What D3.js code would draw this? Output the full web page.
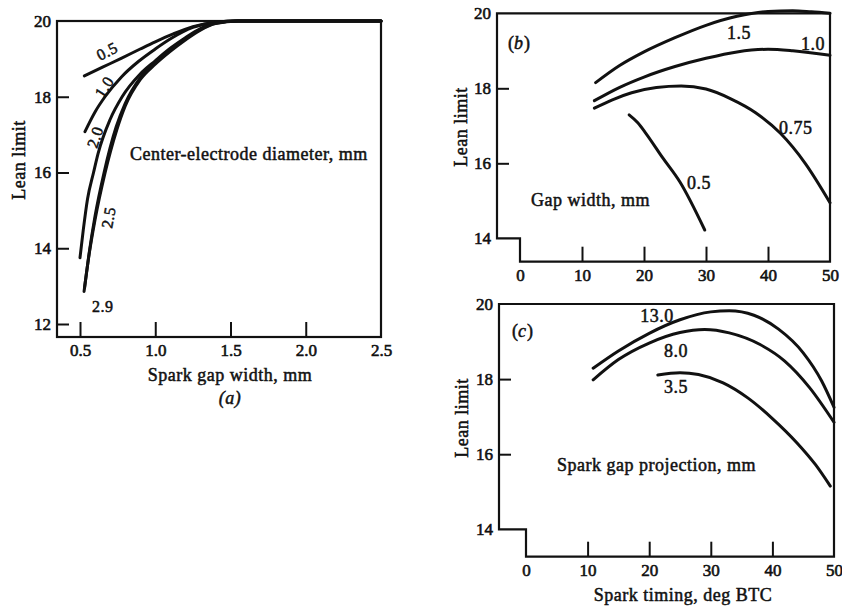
<!DOCTYPE html>
<html>
<head>
<meta charset="utf-8">
<script src="https://cdn.jsdelivr.net/npm/d3@7"></script>
<style>
  body { margin: 0; background: #fff; }
  svg text { font-family: "Liberation Serif", "DejaVu Serif", serif; fill: #111; stroke: #111; stroke-width: 0.5px; }
  .lbl { letter-spacing: 0.5px; }
  .frame { fill: none; stroke: #111; stroke-width: 2.2px; }
  .curve { fill: none; stroke: #111; stroke-width: 3px; stroke-linecap: round; }
  .tick line { stroke: #111; stroke-width: 2px; }
</style>
</head>
<body>
<div id="chart"></div>
<script>
'use strict';

// ---- panel (a): lean limit vs spark gap width, per center-electrode diameter
const aLabels = ['0.5', '1.0', '2.0', '2.5', '2.9'];
const aCurve05 = [[0.529, 18.55], [0.65, 18.78], [0.777, 19.02], [0.9, 19.26], [1.0, 19.45], [1.12, 19.66], [1.25, 19.85], [1.4, 19.97], [1.55, 20], [2.5, 20]];
const aCurve10 = [[0.533, 17.08], [0.6, 17.6], [0.666, 18.0], [0.777, 18.53], [0.888, 18.93], [1.0, 19.26], [1.11, 19.55], [1.25, 19.83], [1.4, 19.97], [1.55, 20], [2.5, 20]];
const aCurve20 = [[0.5, 13.75], [0.522, 14.49], [0.55, 15.3], [0.59, 16.0], [0.62, 16.5], [0.7, 17.4], [0.78, 18.0], [0.9, 18.6], [1.0, 18.95], [1.1, 19.28], [1.2, 19.56], [1.3, 19.8], [1.4, 19.95], [1.55, 20], [2.5, 20]];
const aCurve25 = [[0.53, 12.95], [0.56, 13.85], [0.6, 14.85], [0.66, 16.0], [0.74, 17.2], [0.8, 17.82], [0.9, 18.5], [1.0, 18.9], [1.1, 19.24], [1.2, 19.53], [1.3, 19.78], [1.4, 19.94], [1.55, 20], [2.5, 20]];
const aCurve29 = [[0.527, 12.86], [0.555, 13.69], [0.6, 14.75], [0.666, 15.98], [0.744, 17.12], [0.8, 17.75], [0.9, 18.45], [1.0, 18.86], [1.1, 19.2], [1.2, 19.5], [1.3, 19.76], [1.4, 19.93], [1.55, 20], [2.5, 20]];
const aXTicks = [0.5, 1.0, 1.5, 2.0, 2.5];
const aYTicks = [12, 14, 16, 18, 20];

// ---- panel (b): lean limit vs spark timing, per gap width
const bLabels = ['1.5', '1.0', '0.75', '0.5'];
const bCurve15 = [[12.2, 18.15], [16, 18.6], [20, 18.97], [25, 19.35], [30, 19.68], [35, 19.92], [40, 20.05], [44, 20.07], [47, 20.04], [50, 20.0]];
const bCurve10 = [[12, 17.67], [16, 18.02], [20, 18.3], [25, 18.58], [30, 18.8], [35, 18.97], [40, 19.04], [44, 19.0], [50, 18.88]];
const bCurve075 = [[12, 17.47], [15, 17.7], [18, 17.88], [22, 18.02], [26, 18.06], [30, 17.98], [34, 17.72], [38, 17.35], [42, 16.8], [46, 16.0], [50, 14.95]];
const bCurve05 = [[17.6, 17.29], [19, 17.08], [20.3, 16.8], [23, 16.15], [25.8, 15.5], [29.8, 14.22]];
const bXTicks = [0, 10, 20, 30, 40, 50];
const bYTicks = [14, 16, 18, 20];

// ---- panel (c): lean limit vs spark timing, per spark gap projection
const cLabels = ['13.0', '8.0', '3.5'];
const cCurve130 = [[10.9, 18.29], [15, 18.75], [20, 19.22], [25, 19.58], [30, 19.79], [33, 19.82], [37, 19.7], [41, 19.33], [45, 18.7], [48, 17.95], [50, 17.25]];
const cCurve80 = [[10.9, 17.98], [15, 18.52], [20, 18.96], [25, 19.24], [29, 19.32], [33, 19.23], [38, 18.92], [42, 18.48], [46, 17.78], [50, 16.85]];
const cCurve35 = [[21.4, 18.11], [25, 18.17], [28, 18.12], [32, 17.9], [36, 17.5], [40, 16.95], [44, 16.3], [47, 15.72], [49.4, 15.15]];
const cXTicks = [0, 10, 20, 30, 40, 50];
const cYTicks = [14, 16, 18, 20];

const W = 842, H = 608;
const svg = d3.select('#chart').append('svg').attr('width', W).attr('height', H);

let line = (x, y) => d3.line().x(d => x(d[0])).y(d => y(d[1])).curve(d3.curveMonotoneX);

function drawAxes(g, x, y, xTicks, yTicks, fmt){
    //inward ticks on left and bottom
    let ya = d3.axisLeft(y).tickValues(yTicks).tickSize(-12).tickPadding(6).tickFormat(d3.format('d'));
    let yg = g.append('g').attr('transform', `translate(${x.range()[0]},0)`).call(ya);
    yg.select('.domain').remove();
    yg.selectAll('text').style('font-size', '17px').style('stroke-width', '0.6px');
    let xa = d3.axisBottom(x).tickValues(xTicks).tickSize(-15).tickPadding(7).tickFormat(fmt);
    let xg = g.append('g').attr('transform', `translate(0,${y.range()[0]})`).call(xa);
    xg.select('.domain').remove();
    xg.selectAll('text').style('font-size', '17px').style('stroke-width', '0.6px');
    return [yg, xg];
}

function text(g, s, x, y, opts){
    opts = opts || {};
    let t = g.append('text').classed('lbl', true).text(s).attr('x', x).attr('y', y)
        .style('font-size', (opts.size || 18) + 'px')
        .attr('text-anchor', opts.anchor || 'start');
    if(opts.rotate) t.attr('transform', `rotate(${opts.rotate},${x},${y})`);
    if(opts.italic) t.style('font-style', 'italic');
    return t;
}

// ================= panel (a)
(function(){
    let g = svg.append('g');
    let x = d3.scaleLinear().domain([0.5, 2.5]).range([80, 381]);
    let y = d3.scaleLinear().domain([12, 20]).range([324, 21]);
    let left = x.invert(57), bottom = y.invert(337);
    x.domain([left, 2.5]).range([57, 381]);
    y.domain([bottom, 20]).range([337, 21]);

    let [yg, xg] = drawAxes(g, x, y, aXTicks, aYTicks, d3.format('.1f'));
    //top tick & right edge tick sit on the frame
    xg.selectAll('.tick').filter(d => d === 2.5).select('line').remove();
    yg.selectAll('.tick').filter(d => d === 20).select('line').remove();

    g.append('rect').classed('frame', true)
        .attr('x', x.range()[0]).attr('y', y.range()[1])
        .attr('width', x.range()[1] - x.range()[0]).attr('height', y.range()[0] - y.range()[1]);

    let l = line(x, y);
    for(let c of [aCurve05, aCurve10, aCurve20, aCurve25, aCurve29]){
        g.append('path').datum(c).classed('curve', true).attr('d', l);
    }

    text(g, aLabels[0], 100, 61, {rotate: -27, size: 16});
    text(g, aLabels[1], 103, 99, {rotate: -57, size: 16});
    text(g, aLabels[2], 97, 149, {rotate: -72, size: 16});
    text(g, aLabels[3], 112, 229, {rotate: -80, size: 16});
    text(g, aLabels[4], 92, 312, {size: 16});
    text(g, 'Center-electrode diameter, mm', 130, 160);
    text(g, 'Lean limit', 25, 160, {anchor: 'middle', rotate: -90});
    text(g, 'Spark gap width, mm', 230, 381, {anchor: 'middle'});
    text(g, '(a)', 230, 404, {anchor: 'middle', italic: true});
})();

// ================= panel (b)
function stepFrame(g, x, y){
    let [l, r] = x.range(), [b, t] = y.range();
    let x0 = x(0), y14 = y(14);
    g.append('path').classed('frame', true)
        .attr('d', `M${l},${y14}L${l},${t}L${r},${t}L${r},${b}L${x0},${b}L${x0},${y14}Z`);
}

(function(){
    let g = svg.append('g');
    let x = d3.scaleLinear().domain([0, 50]).range([520, 830]);
    let y = d3.scaleLinear().domain([14, 20]).range([238.3, 13.3]);
    x.domain([x.invert(497), 50]).range([497, 830]);
    y.domain([y.invert(261.7), 20]).range([261.7, 13.3]);

    let [yg, xg] = drawAxes(g, x, y, bXTicks, bYTicks, d3.format('d'));
    xg.selectAll('.tick').filter(d => d === 0 || d === 50).select('line').remove();
    yg.selectAll('.tick').filter(d => d === 14 || d === 20).select('line').remove();
    stepFrame(g, x, y);

    let l = line(x, y);
    for(let c of [bCurve15, bCurve10, bCurve075, bCurve05]){
        g.append('path').datum(c).classed('curve', true).attr('d', l);
    }
    text(g, '(', 508, 49);
    text(g, 'b', 514, 49, {italic: true});
    text(g, ')', 524, 49);
    text(g, bLabels[0], 739, 39, {anchor: 'middle'});
    text(g, bLabels[1], 813, 50, {anchor: 'middle'});
    text(g, bLabels[2], 779, 134);
    text(g, bLabels[3], 687, 189);
    text(g, 'Gap width, mm', 531, 206);
    text(g, 'Lean limit', 467, 127, {anchor: 'middle', rotate: -90});
})();

// ================= panel (c)
(function(){
    let g = svg.append('g');
    let x = d3.scaleLinear().domain([0, 50]).range([526, 834]);
    let y = d3.scaleLinear().domain([14, 20]).range([529.3, 304]);
    x.domain([x.invert(499), 50]).range([499, 834]);
    y.domain([y.invert(556.7), 20]).range([556.7, 304]);

    let [yg, xg] = drawAxes(g, x, y, cXTicks, cYTicks, d3.format('d'));
    xg.selectAll('.tick').filter(d => d === 0 || d === 50).select('line').remove();
    yg.selectAll('.tick').filter(d => d === 14 || d === 20).select('line').remove();
    stepFrame(g, x, y);

    let l = line(x, y);
    for(let c of [cCurve130, cCurve80, cCurve35]){
        g.append('path').datum(c).classed('curve', true).attr('d', l);
    }
    text(g, '(', 512, 337);
    text(g, 'c', 518, 337, {italic: true});
    text(g, ')', 527, 337);
    text(g, cLabels[0], 657, 322, {anchor: 'middle'});
    text(g, cLabels[1], 676, 357, {anchor: 'middle'});
    text(g, cLabels[2], 676, 393, {anchor: 'middle'});
    text(g, 'Spark gap projection, mm', 557, 471);
    text(g, 'Lean limit', 468, 418, {anchor: 'middle', rotate: -90});
    text(g, 'Spark timing, deg BTC', 683, 601, {anchor: 'middle'});
})();
</script>
</body>
</html>
